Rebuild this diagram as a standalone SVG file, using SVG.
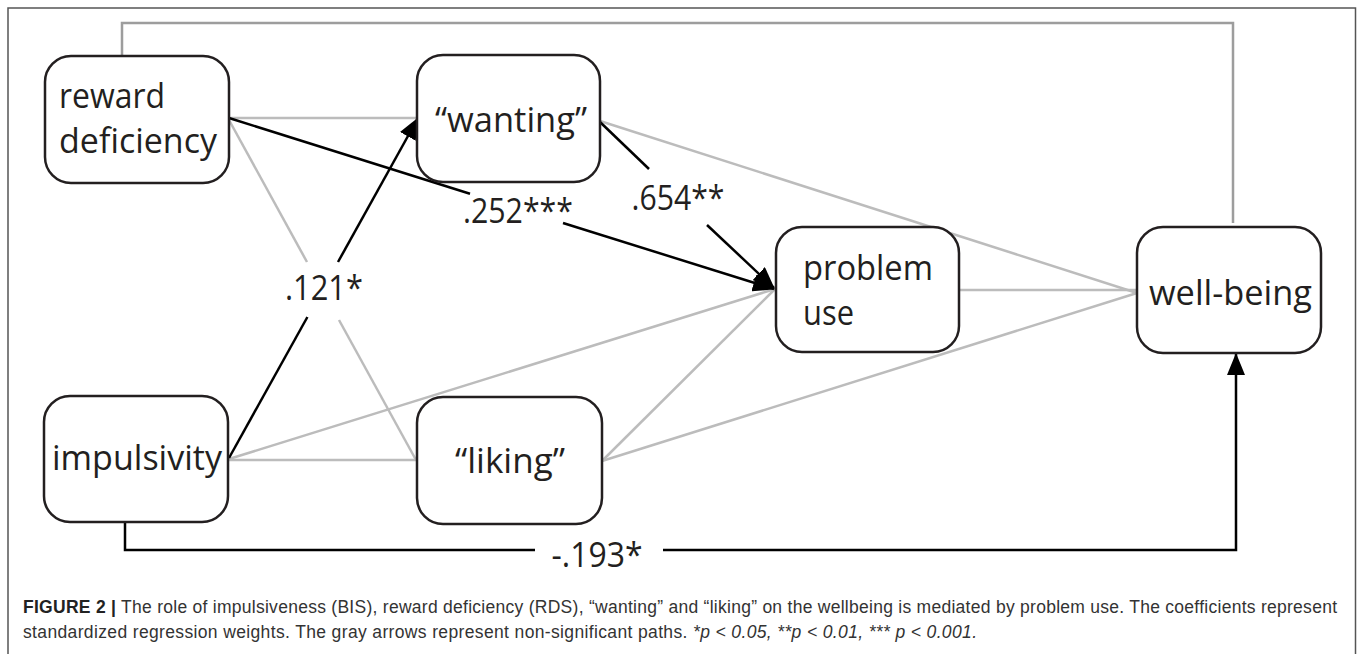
<svg xmlns="http://www.w3.org/2000/svg" width="1358" height="654" viewBox="0 0 1358 654">
<style>
.node{fill:#fff;stroke:#231f20;stroke-width:2.5}
.nt{font-family:"Open Sans","Noto Sans",sans-serif;font-size:35px;fill:#231f20}
.lbl{font-family:"Open Sans","Noto Sans",sans-serif;font-size:35px;fill:#231f20;text-anchor:middle}
.g{stroke:#bcbcbc;stroke-width:2.5;fill:none}
.gd{stroke:#9d9d9d;stroke-width:2.5;fill:none}
.b{stroke:#000;stroke-width:2.5;fill:none}
.cap{font-family:"Liberation Sans",Arial,sans-serif;font-size:17.5px;fill:#333}
</style>
<defs>
<marker id="arr" markerUnits="userSpaceOnUse" markerWidth="22" markerHeight="18" refX="21" refY="9" orient="auto">
<path d="M0,0 L22,9 L0,18 z" fill="#000"/>
</marker>
</defs>
<rect x="0" y="0" width="1358" height="654" fill="#fff"/>
<rect x="8" y="8" width="1347.5" height="700" fill="none" stroke="#555" stroke-width="1.5"/>
<g id="connectors">
<polyline class="gd" points="122,56 122,23 1233,23 1233,223"/>
<line class="g" x1="229" y1="118" x2="417" y2="118"/>
<line class="g" x1="229" y1="120" x2="307" y2="262"/>
<line class="g" x1="339" y1="320" x2="416" y2="460"/>
<line class="g" x1="229" y1="460" x2="417" y2="460"/>
<line class="g" x1="229" y1="459" x2="775" y2="289"/>
<line class="g" x1="602" y1="461" x2="775" y2="289"/>
<line class="g" x1="602" y1="461" x2="1137" y2="293"/>
<line class="g" x1="600" y1="121" x2="1137" y2="293"/>
<line class="g" x1="959" y1="290" x2="1137" y2="290"/>
<line class="b" x1="229" y1="458" x2="307.4" y2="317"/>
<line class="b" x1="338" y1="262" x2="418" y2="118" marker-end="url(#arr)"/>
<line class="b" x1="229" y1="118" x2="470" y2="193.7"/>
<line class="b" x1="563" y1="223" x2="774" y2="289" marker-end="url(#arr)"/>
<line class="b" x1="600" y1="122" x2="649" y2="169"/>
<line class="b" x1="707" y1="225" x2="774" y2="288" marker-end="url(#arr)"/>
<polyline class="b" points="125,522 125,550 535,550"/>
<polyline class="b" points="663,550 1236,550 1236,354" marker-end="url(#arr)"/>
<text class="lbl" x="324" y="300" textLength="78" lengthAdjust="spacingAndGlyphs">.121*</text>
<text class="lbl" x="518" y="223" textLength="110" lengthAdjust="spacingAndGlyphs">.252***</text>
<text class="lbl" x="678" y="210" textLength="93" lengthAdjust="spacingAndGlyphs">.654**</text>
<text class="lbl" x="597" y="567" textLength="91" lengthAdjust="spacingAndGlyphs">-.193*</text>
</g>
<g id="reward-deficiency">
<rect class="node" x="45" y="56" width="184" height="127" rx="26"/>
<text class="nt" x="59" y="108" textLength="106" lengthAdjust="spacingAndGlyphs">reward</text>
<text class="nt" x="59" y="153" textLength="158" lengthAdjust="spacingAndGlyphs">deficiency</text>
</g>
<g id="wanting">
<rect class="node" x="417" y="55" width="183" height="127" rx="26"/>
<text class="nt" x="435" y="132" textLength="152" lengthAdjust="spacingAndGlyphs">“wanting”</text>
</g>
<g id="problem-use">
<rect class="node" x="776" y="227" width="183" height="125" rx="26"/>
<text class="nt" x="803" y="280" textLength="130" lengthAdjust="spacingAndGlyphs">problem</text>
<text class="nt" x="803" y="325" textLength="51" lengthAdjust="spacingAndGlyphs">use</text>
</g>
<g id="well-being">
<rect class="node" x="1137" y="227" width="184" height="126" rx="26"/>
<text class="nt" x="1149" y="305" textLength="163" lengthAdjust="spacingAndGlyphs">well-being</text>
</g>
<g id="impulsivity">
<rect class="node" x="44" y="396" width="184" height="126" rx="26"/>
<text class="nt" x="52" y="470" textLength="170" lengthAdjust="spacingAndGlyphs">impulsivity</text>
</g>
<g id="liking">
<rect class="node" x="417" y="397" width="185" height="127" rx="26"/>
<text class="nt" x="455" y="473" textLength="110" lengthAdjust="spacingAndGlyphs">“liking”</text>
</g>
<g id="caption">
<text class="cap" x="23" y="613" textLength="1314" lengthAdjust="spacing"><tspan font-weight="bold" fill="#222">FIGURE 2 |</tspan> The role of impulsiveness (BIS), reward deficiency (RDS), “wanting” and “liking” on the wellbeing is mediated by problem use. The coefficients represent</text>
<text class="cap" x="23" y="638" textLength="954" lengthAdjust="spacing">standardized regression weights. The gray arrows represent non-significant paths. <tspan font-style="italic">*p &lt; 0.05, **p &lt; 0.01, *** p &lt; 0.001.</tspan></text>
</g>
</svg>
